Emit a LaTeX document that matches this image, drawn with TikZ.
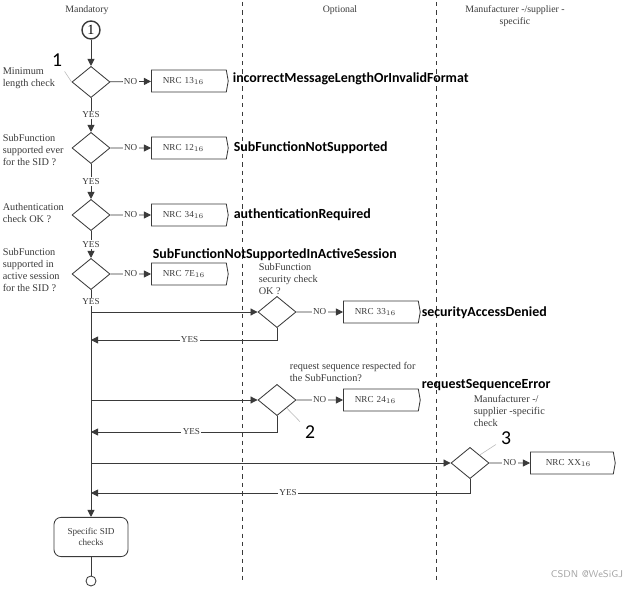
\documentclass[tikz,border=0pt]{standalone}
\usepackage{fontspec}
\setmainfont{Liberation Serif}
\newfontfamily\lblfont{Carlito}
\usetikzlibrary{arrows.meta,shapes.geometric,shapes.symbols}
\definecolor{flowgray}{HTML}{3A3A3A}
\tikzset{
  check/.style={diamond,draw=flowgray,minimum width=0.95cm,minimum height=0.78cm,inner sep=0pt},
  nrc/.style={signal,signal to=east,signal pointer angle=160,draw=flowgray,anchor=west,
    minimum width=1.92cm,minimum height=0.55cm,inner xsep=8pt,text width=1.3cm,align=left,
    font=\fontsize{6.5}{7}\selectfont,text=flowgray},
  note/.style={anchor=west,align=left,text=flowgray,font=\fontsize{7.3}{8.6}\selectfont,inner sep=1pt},
  head/.style={text=flowgray,align=center,font=\fontsize{7}{8.5}\selectfont},
  yes/.style={fill=white,inner sep=1pt,text=flowgray,font=\fontsize{6.5}{7}\selectfont},
  nrcname/.style={anchor=west,inner sep=1pt,font=\lblfont\bfseries\fontsize{9.9}{11}\selectfont},
  tag/.style={font=\lblfont\fontsize{14}{14}\selectfont},
  leader/.style={draw=gray!55,line width=0.4pt},
}
\begin{document}
\begin{tikzpicture}[x=0.025cm,y=-0.025cm,line width=0.6pt,draw=flowgray,>={Triangle[length=5pt,width=5pt]}]
\useasboundingbox (0,0) rectangle (643,589);
% lanes
\draw[dashed,line width=0.5pt] (242,2) -- (242,580);
\draw[dashed,line width=0.5pt] (436,2) -- (436,580);
\node[head] (hmand) at (87,10) {Mandatory};
\node[head] (hopt) at (340,10) {Optional};
\node[head] (hman) at (515,16) {Manufacturer -/supplier -\\specific};

% mandatory checks
\node[circle,draw,line width=1pt,minimum size=0.45cm,inner sep=0pt] (start) at (91,30) {1};
\node[check] (c1) at (91,82) {};
\node[check] (c2) at (91,148) {};
\node[check] (c3) at (91,215) {};
\node[check] (c4) at (91,274) {};
\node[note] (t1) at (1,78) {Minimum\\length check};
\node[note] (t2) at (1,150) {SubFunction\\supported ever\\for the SID ?};
\node[note] (t3) at (1,213) {Authentication\\check OK ?};
\node[note] (t4) at (1,270) {SubFunction\\supported in\\active session\\for the SID ?};
\node[nrc] (n1) at (151,81) {NRC 13$_{16}$};
\node[nrc] (n2) at (151,148) {NRC 12$_{16}$};
\node[nrc] (n3) at (151,215) {NRC 34$_{16}$};
\node[nrc] (n4) at (151,274) {NRC 7E$_{16}$};
\node[nrcname] (e1) at (231,79) {incorrectMessageLengthOrInvalidFormat};
\node[nrcname] (e2) at (232,148) {SubFunctionNotSupported};
\node[nrcname] (e3) at (232,215) {authenticationRequired};
\node[nrcname] (e4) at (151,255) {SubFunctionNotSupportedInActiveSession};
\draw[->] (start) -- (c1);
\draw[->] (c1) -- node[yes]{YES} (c2);
\draw[->] (c2) -- node[yes]{YES} (c3);
\draw[->] (c3) -- node[yes]{YES} (c4);
\foreach \i in {1,...,4}
  \draw[->] (c\i) -- node[yes]{NO} (n\i);
\node[tag] (tag1) at (57,60) {1};
\draw[leader] (tag1) -- (c1.west);

% optional checks
\node[check] (c5) at (277,312) {};
\node[check] (c6) at (277,400) {};
\node[note] (t5) at (257,279) {SubFunction\\security check\\OK ?};
\node[note] (t6) at (288,372) {request sequence respected for\\the SubFunction?};
\node[nrc] (n5) at (343,312) {NRC 33$_{16}$};
\node[nrc] (n6) at (343,400) {NRC 24$_{16}$};
\node[nrcname] (e5) at (420,313) {securityAccessDenied};
\node[nrcname] (e6) at (420,385) {requestSequenceError};
\node[tag] (tag2) at (310,432) {2};
\draw[leader] (tag2) -- (c6.south east);

% manufacturer check
\node[check] (c7) at (470,463) {};
\node[note] (t7) at (472,411) {Manufacturer -/\\supplier -specific\\check};
\node[nrc,minimum width=2.12cm] (n7) at (530,463) {NRC XX$_{16}$};
\node[tag] (tag3) at (506,438) {3};
\draw[leader] (tag3) -- (c7.north east);

% main line and branches
\node[draw,rounded corners=5pt,minimum width=1.85cm,minimum height=0.98cm,align=center,
  text=flowgray,font=\fontsize{6.5}{8}\selectfont] (sid) at (91,537) {Specific SID\\checks};
\node[circle,draw,minimum size=0.25cm,inner sep=0pt] (stop) at (91,581) {};
\coordinate (b5) at (91,312);
\coordinate (r5) at (91,340);
\coordinate (b6) at (91,400);
\coordinate (r6) at (91,432);
\coordinate (b7) at (91,463);
\coordinate (r7) at (91,493);
\draw[->] (c4) -- (sid);
\node[yes] (y4) at (91,302) {YES};
\draw (sid) -- (stop);
\foreach \i in {5,6,7} {
  \draw[->] (b\i) -- (c\i);
  \draw[->] (c\i) -- node[yes]{NO} (n\i);
}
\draw[->] (c5.south) |- node[yes,pos=0.735]{YES} (r5);
\draw[->] (c6.south) |- node[yes,pos=0.73]{YES} (r6);
\draw[->] (c7.south) |- node[yes,pos=0.74]{YES} (r7);

\node[text=gray!70,font=\sffamily\fontsize{7}{8}\selectfont] (mark) at (587,574) {CSDN @WeSiGJ};
\end{tikzpicture}
\end{document}
